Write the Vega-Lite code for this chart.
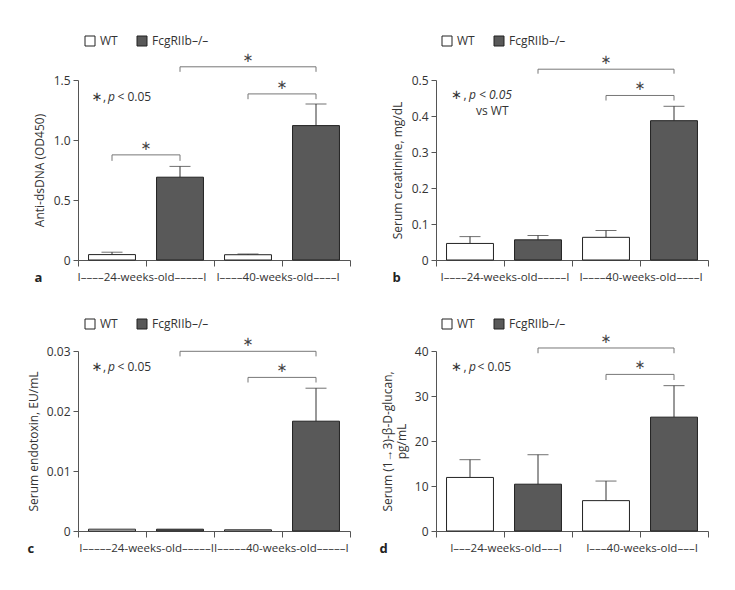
{
  "$schema": "https://vega.github.io/schema/vega-lite/v6.json",
  "padding": {"left": 27, "top": 35, "right": 5, "bottom": 5},
  "columns": 2,
  "bounds": "flush",
  "spacing": {"row": 91, "column": 86},
  "resolve": {"scale": {"color": "independent"}},
  "datasets": {
    "a_bars": [
      {"cat": "24-WT", "geno": "WT", "mean": 0.045, "hi": 0.065},
      {"cat": "24-KO", "geno": "FcgRIIb–/–", "mean": 0.69, "hi": 0.78},
      {"cat": "40-WT", "geno": "WT", "mean": 0.044, "hi": 0.05},
      {"cat": "40-KO", "geno": "FcgRIIb–/–", "mean": 1.12, "hi": 1.3}
    ],
    "a_br": [
      {"from": "24-WT", "to": "24-KO", "y": 0.876, "ylow": 0.826},
      {"from": "24-KO", "to": "40-KO", "y": 1.61, "ylow": 1.568},
      {"from": "40-WT", "to": "40-KO", "y": 1.384, "ylow": 1.34}
    ],
    "a_note": [{"cat": "24-WT", "y": 1.361}],
    "b_bars": [
      {"cat": "24-WT", "geno": "WT", "mean": 0.046, "hi": 0.065},
      {"cat": "24-KO", "geno": "FcgRIIb–/–", "mean": 0.056, "hi": 0.068},
      {"cat": "40-WT", "geno": "WT", "mean": 0.063, "hi": 0.082},
      {"cat": "40-KO", "geno": "FcgRIIb–/–", "mean": 0.387, "hi": 0.427}
    ],
    "b_br": [
      {"from": "24-KO", "to": "40-KO", "y": 0.53, "ylow": 0.5175},
      {"from": "40-WT", "to": "40-KO", "y": 0.457, "ylow": 0.443}
    ],
    "b_note": [{"cat": "24-WT", "y": 0.459, "y_vs": 0.413}],
    "c_bars": [
      {"cat": "24-WT", "geno": "WT", "mean": 0.0003, "hi": null},
      {"cat": "24-KO", "geno": "FcgRIIb–/–", "mean": 0.0003, "hi": null},
      {"cat": "40-WT", "geno": "WT", "mean": 0.0002, "hi": null},
      {"cat": "40-KO", "geno": "FcgRIIb–/–", "mean": 0.0183, "hi": 0.0238}
    ],
    "c_br": [
      {"from": "24-KO", "to": "40-KO", "y": 0.02995, "ylow": 0.0291},
      {"from": "40-WT", "to": "40-KO", "y": 0.0256, "ylow": 0.02475}
    ],
    "c_note": [{"cat": "24-WT", "y": 0.0273}],
    "d_bars": [
      {"cat": "24-WT", "geno": "WT", "mean": 11.9, "hi": 15.85},
      {"cat": "24-KO", "geno": "FcgRIIb–/–", "mean": 10.4, "hi": 16.95},
      {"cat": "40-WT", "geno": "WT", "mean": 6.75, "hi": 11.1},
      {"cat": "40-KO", "geno": "FcgRIIb–/–", "mean": 25.3, "hi": 32.3}
    ],
    "d_br": [
      {"from": "24-KO", "to": "40-KO", "y": 40.67, "ylow": 39.5},
      {"from": "40-WT", "to": "40-KO", "y": 34.8, "ylow": 33.55}
    ],
    "d_note": [{"cat": "24-WT", "y": 36.4}]
  },
  "concat": [
    {
      "width": 272, "height": 180,
      "layer": [
        {"data": {"name": "a_bars"}, "mark": {"type": "rule", "color": "#333"},
          "encoding": {
            "x": {"field": "cat", "type": "nominal", "scale": {"domain": ["24-WT", "24-KO", "40-WT", "40-KO"], "paddingInner": 0, "paddingOuter": 0},
              "axis": {"bandPosition": 1, "tickExtra": true, "tickSize": 6, "labelPadding": 11, "labelBaseline": "middle", "labelAngle": 0, "labelOverlap": false, "labelBound": false, "labelFlush": false, "labelLimit": 0, "labelOffset": 30, "labelFontSize": 11.5,
                "labelExpr": "datum.value == '24-WT' ? 'I––––24-weeks-old–––––I' : datum.value == '40-WT' ? 'I––––40-weeks-old––––I' : ''",
                "title": "a", "titleFontWeight": "bold", "titleFontSize": 13, "titleColor": "#222", "titleX": -44, "titleY": 17, "titleAlign": "left", "titleBaseline": "middle"}},
            "y": {"field": "mean", "type": "quantitative", "scale": {"domain": [0, 1.5], "nice": false},
              "axis": {"values": [0, 0.5, 1, 1.5], "tickCount": 4, "labelOverlap": false, "labelExpr": "datum.value == 0 ? '0' : format(datum.value, '.1f')", "title": "Anti-dsDNA (OD450)", "tickSize": 5, "labelPadding": 3, "titlePadding": 7}},
            "y2": {"field": "hi"}
          }},
        {"data": {"name": "a_bars"}, "mark": {"type": "tick", "orient": "horizontal", "size": 21, "thickness": 1, "color": "#333"},
          "encoding": {"x": {"field": "cat", "type": "nominal"}, "y": {"field": "hi", "type": "quantitative"}}},
        {"data": {"name": "a_bars"}, "mark": {"type": "bar", "width": {"band": 0.69}, "stroke": "#222", "strokeWidth": 1},
          "encoding": {"x": {"field": "cat", "type": "nominal"}, "y": {"field": "mean", "type": "quantitative", "stack": null},
            "color": {"field": "geno", "type": "nominal", "scale": {"domain": ["WT", "FcgRIIb–/–"], "range": ["#ffffff", "#595959"]}, "legend": {"title": null, "legendX": 6, "legendY": -45}}}},
        {"data": {"name": "a_br"}, "mark": {"type": "rule", "color": "#777"},
          "encoding": {"x": {"field": "from", "type": "nominal"}, "x2": {"field": "to"}, "y": {"field": "y", "type": "quantitative"}}},
        {"data": {"name": "a_br"}, "mark": {"type": "rule", "color": "#777"},
          "encoding": {"x": {"field": "from", "type": "nominal"}, "y": {"field": "y", "type": "quantitative"}, "y2": {"field": "ylow"}}},
        {"data": {"name": "a_br"}, "mark": {"type": "rule", "color": "#777"},
          "encoding": {"x": {"field": "to", "type": "nominal"}, "y": {"field": "y", "type": "quantitative"}, "y2": {"field": "ylow"}}},
        {"data": {"name": "a_br"}, "transform": [{"filter": "datum.from != '24-KO'"}],
          "mark": {"type": "text", "text": "∗", "font": "DejaVu Sans", "fontSize": 13, "dy": -9, "baseline": "middle", "color": "#444"},
          "encoding": {"x": {"field": "from", "type": "nominal", "bandPosition": 1}, "y": {"field": "y", "type": "quantitative"}}},
        {"data": {"name": "a_br"}, "transform": [{"filter": "datum.from == '24-KO'"}],
          "mark": {"type": "text", "text": "∗", "font": "DejaVu Sans", "fontSize": 13, "dy": -9, "baseline": "middle", "color": "#444"},
          "encoding": {"x": {"field": "from", "type": "nominal", "bandPosition": 1.5}, "y": {"field": "y", "type": "quantitative"}}},
        {"data": {"name": "a_note"}, "mark": {"type": "text", "text": "∗", "font": "DejaVu Sans", "fontSize": 13, "align": "center", "dx": 2, "baseline": "middle", "color": "#333"},
          "encoding": {"x": {"field": "cat", "type": "nominal", "bandPosition": 0.25}, "y": {"field": "y", "type": "quantitative"}}},
        {"data": {"name": "a_note"}, "mark": {"type": "text", "text": ",", "fontSize": 12, "align": "left", "baseline": "middle", "dx": 8, "color": "#333"},
          "encoding": {"x": {"field": "cat", "type": "nominal", "bandPosition": 0.25}, "y": {"field": "y", "type": "quantitative"}}},
        {"data": {"name": "a_note"}, "mark": {"type": "text", "text": "p", "fontSize": 12, "fontStyle": "italic", "align": "left", "baseline": "middle", "dx": 13, "color": "#333"},
          "encoding": {"x": {"field": "cat", "type": "nominal", "bandPosition": 0.25}, "y": {"field": "y", "type": "quantitative"}}},
        {"data": {"name": "a_note"}, "mark": {"type": "text", "text": "< 0.05", "fontSize": 12, "align": "left", "baseline": "middle", "dx": 22.5, "color": "#333"},
          "encoding": {"x": {"field": "cat", "type": "nominal", "bandPosition": 0.25}, "y": {"field": "y", "type": "quantitative"}}}
      ]
    },
    {
      "width": 272, "height": 180,
      "layer": [
        {"data": {"name": "b_bars"}, "mark": {"type": "rule", "color": "#333"},
          "encoding": {
            "x": {"field": "cat", "type": "nominal", "scale": {"domain": ["24-WT", "24-KO", "40-WT", "40-KO"], "paddingInner": 0, "paddingOuter": 0},
              "axis": {"bandPosition": 1, "tickExtra": true, "tickSize": 6, "labelPadding": 11, "labelBaseline": "middle", "labelAngle": 0, "labelOverlap": false, "labelBound": false, "labelFlush": false, "labelLimit": 0, "labelOffset": 35, "labelFontSize": 11.5,
                "labelExpr": "datum.value == '24-WT' ? 'I––––24-weeks-old–––––I' : datum.value == '40-WT' ? 'I––––40-weeks-old––––I' : ''",
                "title": "b", "titleFontWeight": "bold", "titleFontSize": 13, "titleColor": "#222", "titleX": -44, "titleY": 17, "titleAlign": "left", "titleBaseline": "middle"}},
            "y": {"field": "mean", "type": "quantitative", "scale": {"domain": [0, 0.5], "nice": false},
              "axis": {"values": [0, 0.1, 0.2, 0.3, 0.4, 0.5], "tickCount": 6, "labelOverlap": false, "labelExpr": "datum.value == 0 ? '0' : format(datum.value, '.1f')", "title": "Serum creatinine, mg/dL", "tickSize": 5, "labelPadding": 3, "titlePadding": 7}},
            "y2": {"field": "hi"}
          }},
        {"data": {"name": "b_bars"}, "mark": {"type": "tick", "orient": "horizontal", "size": 21, "thickness": 1, "color": "#333"},
          "encoding": {"x": {"field": "cat", "type": "nominal"}, "y": {"field": "hi", "type": "quantitative"}}},
        {"data": {"name": "b_bars"}, "mark": {"type": "bar", "width": {"band": 0.69}, "stroke": "#222", "strokeWidth": 1},
          "encoding": {"x": {"field": "cat", "type": "nominal"}, "y": {"field": "mean", "type": "quantitative", "stack": null},
            "color": {"field": "geno", "type": "nominal", "scale": {"domain": ["WT", "FcgRIIb–/–"], "range": ["#ffffff", "#595959"]}, "legend": {"title": null, "legendX": 5, "legendY": -45}}}},
        {"data": {"name": "b_br"}, "mark": {"type": "rule", "color": "#777"},
          "encoding": {"x": {"field": "from", "type": "nominal"}, "x2": {"field": "to"}, "y": {"field": "y", "type": "quantitative"}}},
        {"data": {"name": "b_br"}, "mark": {"type": "rule", "color": "#777"},
          "encoding": {"x": {"field": "from", "type": "nominal"}, "y": {"field": "y", "type": "quantitative"}, "y2": {"field": "ylow"}}},
        {"data": {"name": "b_br"}, "mark": {"type": "rule", "color": "#777"},
          "encoding": {"x": {"field": "to", "type": "nominal"}, "y": {"field": "y", "type": "quantitative"}, "y2": {"field": "ylow"}}},
        {"data": {"name": "b_br"}, "transform": [{"filter": "datum.from != '24-KO'"}],
          "mark": {"type": "text", "text": "∗", "font": "DejaVu Sans", "fontSize": 13, "dy": -9, "baseline": "middle", "color": "#444"},
          "encoding": {"x": {"field": "from", "type": "nominal", "bandPosition": 1}, "y": {"field": "y", "type": "quantitative"}}},
        {"data": {"name": "b_br"}, "transform": [{"filter": "datum.from == '24-KO'"}],
          "mark": {"type": "text", "text": "∗", "font": "DejaVu Sans", "fontSize": 13, "dy": -9, "baseline": "middle", "color": "#444"},
          "encoding": {"x": {"field": "from", "type": "nominal", "bandPosition": 1.5}, "y": {"field": "y", "type": "quantitative"}}},
        {"data": {"name": "b_note"}, "mark": {"type": "text", "text": "∗", "font": "DejaVu Sans", "fontSize": 13, "align": "center", "dx": 3.5, "baseline": "middle", "color": "#333"},
          "encoding": {"x": {"field": "cat", "type": "nominal", "bandPosition": 0.25}, "y": {"field": "y", "type": "quantitative"}}},
        {"data": {"name": "b_note"}, "mark": {"type": "text", "text": ",", "fontSize": 12, "align": "left", "baseline": "middle", "dx": 10.5, "color": "#333"},
          "encoding": {"x": {"field": "cat", "type": "nominal", "bandPosition": 0.25}, "y": {"field": "y", "type": "quantitative"}}},
        {"data": {"name": "b_note"}, "mark": {"type": "text", "text": "p < 0.05", "fontSize": 12, "fontStyle": "italic", "align": "left", "baseline": "middle", "dx": 16, "color": "#333"},
          "encoding": {"x": {"field": "cat", "type": "nominal", "bandPosition": 0.25}, "y": {"field": "y", "type": "quantitative"}}},
        {"data": {"name": "b_note"}, "mark": {"type": "text", "text": "vs WT", "fontSize": 12, "align": "left", "baseline": "middle", "dx": 23, "color": "#333"},
          "encoding": {"x": {"field": "cat", "type": "nominal", "bandPosition": 0.25}, "y": {"field": "y_vs", "type": "quantitative"}}}
      ]
    },
    {
      "width": 272, "height": 180,
      "layer": [
        {"data": {"name": "c_bars"}, "mark": {"type": "rule", "color": "#333"},
          "encoding": {
            "x": {"field": "cat", "type": "nominal", "scale": {"domain": ["24-WT", "24-KO", "40-WT", "40-KO"], "paddingInner": 0, "paddingOuter": 0},
              "axis": {"bandPosition": 1, "tickExtra": true, "tickSize": 6, "labelPadding": 11, "labelBaseline": "middle", "labelAngle": 0, "labelOverlap": false, "labelBound": false, "labelFlush": false, "labelLimit": 0, "labelOffset": 34, "labelFontSize": 11.5,
                "labelExpr": "datum.value == '24-KO' ? 'I–––––24-weeks-old–––––II–––––40-weeks-old–––––I' : ''",
                "title": "c", "titleFontWeight": "bold", "titleFontSize": 13, "titleColor": "#222", "titleX": -51, "titleY": 17, "titleAlign": "left", "titleBaseline": "middle"}},
            "y": {"field": "mean", "type": "quantitative", "scale": {"domain": [0, 0.03], "nice": false},
              "axis": {"values": [0, 0.01, 0.02, 0.03], "tickCount": 4, "labelOverlap": false, "labelExpr": "datum.value == 0 ? '0' : format(datum.value, '.2f')", "title": "Serum endotoxin, EU/mL", "tickSize": 5, "labelPadding": 3, "titlePadding": 6}},
            "y2": {"field": "hi"}
          }},
        {"data": {"name": "c_bars"}, "mark": {"type": "tick", "orient": "horizontal", "size": 21, "thickness": 1, "color": "#333"},
          "encoding": {"x": {"field": "cat", "type": "nominal"}, "y": {"field": "hi", "type": "quantitative"}}},
        {"data": {"name": "c_bars"}, "mark": {"type": "bar", "width": {"band": 0.69}, "stroke": "#222", "strokeWidth": 1},
          "encoding": {"x": {"field": "cat", "type": "nominal"}, "y": {"field": "mean", "type": "quantitative", "stack": null},
            "color": {"field": "geno", "type": "nominal", "scale": {"domain": ["WT", "FcgRIIb–/–"], "range": ["#ffffff", "#595959"]}, "legend": {"title": null, "legendX": 6, "legendY": -33}}}},
        {"data": {"name": "c_br"}, "mark": {"type": "rule", "color": "#777"},
          "encoding": {"x": {"field": "from", "type": "nominal"}, "x2": {"field": "to"}, "y": {"field": "y", "type": "quantitative"}}},
        {"data": {"name": "c_br"}, "mark": {"type": "rule", "color": "#777"},
          "encoding": {"x": {"field": "from", "type": "nominal"}, "y": {"field": "y", "type": "quantitative"}, "y2": {"field": "ylow"}}},
        {"data": {"name": "c_br"}, "mark": {"type": "rule", "color": "#777"},
          "encoding": {"x": {"field": "to", "type": "nominal"}, "y": {"field": "y", "type": "quantitative"}, "y2": {"field": "ylow"}}},
        {"data": {"name": "c_br"}, "transform": [{"filter": "datum.from != '24-KO'"}],
          "mark": {"type": "text", "text": "∗", "font": "DejaVu Sans", "fontSize": 13, "dy": -9, "baseline": "middle", "color": "#444"},
          "encoding": {"x": {"field": "from", "type": "nominal", "bandPosition": 1}, "y": {"field": "y", "type": "quantitative"}}},
        {"data": {"name": "c_br"}, "transform": [{"filter": "datum.from == '24-KO'"}],
          "mark": {"type": "text", "text": "∗", "font": "DejaVu Sans", "fontSize": 13, "dy": -9, "baseline": "middle", "color": "#444"},
          "encoding": {"x": {"field": "from", "type": "nominal", "bandPosition": 1.5}, "y": {"field": "y", "type": "quantitative"}}},
        {"data": {"name": "c_note"}, "mark": {"type": "text", "text": "∗", "font": "DejaVu Sans", "fontSize": 13, "align": "center", "dx": 2, "baseline": "middle", "color": "#333"},
          "encoding": {"x": {"field": "cat", "type": "nominal", "bandPosition": 0.25}, "y": {"field": "y", "type": "quantitative"}}},
        {"data": {"name": "c_note"}, "mark": {"type": "text", "text": ",", "fontSize": 12, "align": "left", "baseline": "middle", "dx": 8, "color": "#333"},
          "encoding": {"x": {"field": "cat", "type": "nominal", "bandPosition": 0.25}, "y": {"field": "y", "type": "quantitative"}}},
        {"data": {"name": "c_note"}, "mark": {"type": "text", "text": "p", "fontSize": 12, "fontStyle": "italic", "align": "left", "baseline": "middle", "dx": 13, "color": "#333"},
          "encoding": {"x": {"field": "cat", "type": "nominal", "bandPosition": 0.25}, "y": {"field": "y", "type": "quantitative"}}},
        {"data": {"name": "c_note"}, "mark": {"type": "text", "text": "< 0.05", "fontSize": 12, "align": "left", "baseline": "middle", "dx": 22.5, "color": "#333"},
          "encoding": {"x": {"field": "cat", "type": "nominal", "bandPosition": 0.25}, "y": {"field": "y", "type": "quantitative"}}}
      ]
    },
    {
      "width": 272, "height": 180,
      "layer": [
        {"data": {"name": "d_bars"}, "mark": {"type": "rule", "color": "#333"},
          "encoding": {
            "x": {"field": "cat", "type": "nominal", "scale": {"domain": ["24-WT", "24-KO", "40-WT", "40-KO"], "paddingInner": 0, "paddingOuter": 0},
              "axis": {"bandPosition": 1, "tickExtra": true, "tickSize": 6, "labelPadding": 11, "labelBaseline": "middle", "labelAngle": 0, "labelOverlap": false, "labelBound": false, "labelFlush": false, "labelLimit": 0, "labelOffset": 36, "labelFontSize": 11.5,
                "labelExpr": "datum.value == '24-WT' ? 'I–––24-weeks-old–––I' : datum.value == '40-WT' ? 'I–––40-weeks-old–––I' : ''",
                "title": "d", "titleFontWeight": "bold", "titleFontSize": 13, "titleColor": "#222", "titleX": -57, "titleY": 17, "titleAlign": "left", "titleBaseline": "middle"}},
            "y": {"field": "mean", "type": "quantitative", "scale": {"domain": [0, 40], "nice": false},
              "axis": {"values": [0, 10, 20, 30, 40], "tickCount": 5, "labelOverlap": false, "title": ["Serum (1→3)-β-D-glucan,", "pg/mL"], "tickSize": 5, "labelPadding": 3, "titlePadding": 6}},
            "y2": {"field": "hi"}
          }},
        {"data": {"name": "d_bars"}, "mark": {"type": "tick", "orient": "horizontal", "size": 21, "thickness": 1, "color": "#333"},
          "encoding": {"x": {"field": "cat", "type": "nominal"}, "y": {"field": "hi", "type": "quantitative"}}},
        {"data": {"name": "d_bars"}, "mark": {"type": "bar", "width": {"band": 0.69}, "stroke": "#222", "strokeWidth": 1},
          "encoding": {"x": {"field": "cat", "type": "nominal"}, "y": {"field": "mean", "type": "quantitative", "stack": null},
            "color": {"field": "geno", "type": "nominal", "scale": {"domain": ["WT", "FcgRIIb–/–"], "range": ["#ffffff", "#595959"]}, "legend": {"title": null, "legendX": 5, "legendY": -33}}}},
        {"data": {"name": "d_br"}, "mark": {"type": "rule", "color": "#777"},
          "encoding": {"x": {"field": "from", "type": "nominal"}, "x2": {"field": "to"}, "y": {"field": "y", "type": "quantitative"}}},
        {"data": {"name": "d_br"}, "mark": {"type": "rule", "color": "#777"},
          "encoding": {"x": {"field": "from", "type": "nominal"}, "y": {"field": "y", "type": "quantitative"}, "y2": {"field": "ylow"}}},
        {"data": {"name": "d_br"}, "mark": {"type": "rule", "color": "#777"},
          "encoding": {"x": {"field": "to", "type": "nominal"}, "y": {"field": "y", "type": "quantitative"}, "y2": {"field": "ylow"}}},
        {"data": {"name": "d_br"}, "transform": [{"filter": "datum.from != '24-KO'"}],
          "mark": {"type": "text", "text": "∗", "font": "DejaVu Sans", "fontSize": 13, "dy": -9, "baseline": "middle", "color": "#444"},
          "encoding": {"x": {"field": "from", "type": "nominal", "bandPosition": 1}, "y": {"field": "y", "type": "quantitative"}}},
        {"data": {"name": "d_br"}, "transform": [{"filter": "datum.from == '24-KO'"}],
          "mark": {"type": "text", "text": "∗", "font": "DejaVu Sans", "fontSize": 13, "dy": -9, "baseline": "middle", "color": "#444"},
          "encoding": {"x": {"field": "from", "type": "nominal", "bandPosition": 1.5}, "y": {"field": "y", "type": "quantitative"}}},
        {"data": {"name": "d_note"}, "mark": {"type": "text", "text": "∗", "font": "DejaVu Sans", "fontSize": 13, "align": "center", "dx": 3.5, "baseline": "middle", "color": "#333"},
          "encoding": {"x": {"field": "cat", "type": "nominal", "bandPosition": 0.25}, "y": {"field": "y", "type": "quantitative"}}},
        {"data": {"name": "d_note"}, "mark": {"type": "text", "text": ",", "fontSize": 12, "align": "left", "baseline": "middle", "dx": 10.5, "color": "#333"},
          "encoding": {"x": {"field": "cat", "type": "nominal", "bandPosition": 0.25}, "y": {"field": "y", "type": "quantitative"}}},
        {"data": {"name": "d_note"}, "mark": {"type": "text", "text": "p", "fontSize": 12, "fontStyle": "italic", "align": "left", "baseline": "middle", "dx": 16, "color": "#333"},
          "encoding": {"x": {"field": "cat", "type": "nominal", "bandPosition": 0.25}, "y": {"field": "y", "type": "quantitative"}}},
        {"data": {"name": "d_note"}, "mark": {"type": "text", "text": "< 0.05", "fontSize": 12, "align": "left", "baseline": "middle", "dx": 24.5, "color": "#333"},
          "encoding": {"x": {"field": "cat", "type": "nominal", "bandPosition": 0.25}, "y": {"field": "y", "type": "quantitative"}}}
      ]
    }
  ],
  "config": {
    "font": "Open Sans",
    "view": {"stroke": null},
    "axis": {"grid": false, "domainColor": "#555", "tickColor": "#555", "labelColor": "#333", "labelFontSize": 12, "titleFontSize": 12, "titleFontWeight": "normal", "titleColor": "#333", "labelFont": "Open Sans", "titleFont": "Open Sans"},
    "axisY": {"labelOverlap": false},
    "legend": {"orient": "none", "direction": "horizontal", "symbolType": "square", "symbolSize": 100, "symbolStrokeColor": "#222", "symbolStrokeWidth": 1, "labelFontSize": 12, "labelColor": "#333", "labelFont": "Open Sans", "columnPadding": 17, "labelOffset": 4, "padding": 0},
    "text": {"font": "Open Sans", "fontSize": 12, "color": "#333"}
  }
}
